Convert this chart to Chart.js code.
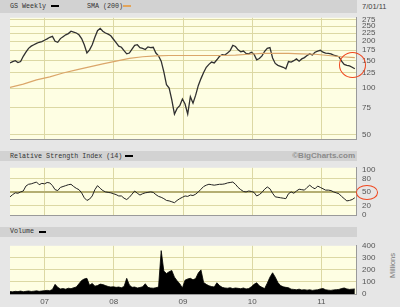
<!DOCTYPE html>
<html><head><meta charset="utf-8">
<script src="https://cdn.jsdelivr.net/npm/chart.js@4/dist/chart.umd.min.js"></script>
<style>
html,body{margin:0;padding:0;}
body{width:400px;height:307px;position:relative;overflow:hidden;background:#e6e6e6;font-family:"Liberation Mono",monospace;}
.band{position:absolute;left:0;width:357px;background:#d2d2d2;}
.txt{position:absolute;font-size:6.7px;color:#333;white-space:nowrap;line-height:7px;}
.dash{position:absolute;height:2px;}
canvas{position:absolute;}
.circ{position:absolute;border:1.5px solid #f0461e;border-radius:50%;box-sizing:border-box;}
</style></head><body>
<div class="band" style="top:0;height:13px;"></div>
<div class="band" style="top:151px;height:10px;"></div>
<div class="band" style="top:227px;height:10px;"></div>

<div class="txt" style="left:10px;top:2.5px;">GS Weekly</div>
<div class="dash" style="left:51px;top:5px;width:8px;background:#000;"></div>
<div class="txt" style="left:87px;top:2.5px;">SMA (200)</div>
<div class="dash" style="left:123px;top:5px;width:8px;background:#e2a45a;"></div>
<div class="txt" style="left:362px;top:2.5px;font-family:'Liberation Sans';font-size:7.5px;color:#444;">7/01/11</div>

<div class="txt" style="left:10px;top:152.5px;">Relative Strength Index (14)</div>
<div class="dash" style="left:125px;top:154.5px;width:8px;background:#000;"></div>
<div class="txt" style="right:45px;top:152px;font-family:'Liberation Sans';font-weight:bold;font-size:8px;color:#8a8a8a;line-height:8px;">©BigCharts.com</div>

<div class="txt" style="left:10px;top:228px;">Volume</div>
<div class="dash" style="left:39px;top:230.5px;width:7px;background:#000;"></div>
<div class="txt" style="left:376px;top:262px;width:32px;text-align:center;transform:rotate(-90deg);font-family:'Liberation Sans';font-size:7.5px;color:#777;">Millions</div>

<canvas id="price" width="390" height="143" style="left:10px;top:7px;"></canvas>
<canvas id="rsi" width="390" height="69" style="left:10px;top:157px;"></canvas>
<canvas id="vol" width="390" height="72" style="left:10px;top:235px;"></canvas>

<div class="circ" style="left:339px;top:52px;width:27px;height:26px;"></div>
<div class="circ" style="left:355.5px;top:185px;width:22px;height:14.5px;"></div>

<script>
// ---- data (weekly chart, sampled every 2 weeks from July 2006) ----
const sampleStart = 2006.5;
const sampleStepWeeks = 2;
const yearTicks = [2007, 2008, 2009, 2010, 2011];
const yearLabels = ['07', '08', '09', '10', '11'];
const priceTicks = [50, 75, 100, 125, 150, 175, 200, 225, 250, 275];
const rsiTicks = [0, 20, 50, 80, 100];
const volumeTicks = [0, 100, 200, 300, 400];

const closes = [145,148,150,146,148,160,170,180,186,190,194,197,199,203,207,212,215,200,197,208,
214,220,224,232,229,226,220,208,190,168,176,190,212,234,242,232,226,222,217,206,
196,186,183,174,166,168,178,188,190,182,180,177,184,182,183,168,161,149,127,105,
100,84,68,74,77,85,79,68,88,80,90,104,115,126,136,142,147,145,152,160,
164,163,168,174,188,185,176,171,173,167,166,170,165,152,155,161,172,180,182,156,
144,140,138,136,133,148,147,150,154,149,154,157,162,166,163,170,173,175,170,168,
167,166,163,161,159,149,142,140,139,136,133];

// 200-period SMA, one value every 5 samples
const smaEvery = 5;
const sma200 = [101,106,113,118,125,131,137,143,149,155,159,161,162,162,162,162,162,163,165,167,167,167,166,165,162,159,157];

const rsi14 = [39,44,48,47,50,52,63,67,68,70,72,66,69,68,71,70,64,55,53,60,
62,64,66,67,62,58,55,48,37,31,34,41,55,64,58,53,50,49,48,46,
44,41,41,36,33,38,45,52,47,43,46,48,49,50,49,44,40,38,35,31,
30,28,26,31,35,38,41,40,43,42,45,50,56,62,65,67,66,65,66,67,
67,68,70,71,72,67,60,55,51,50,52,51,49,41,44,49,56,61,57,47,
39,38,37,36,35,46,50,47,52,56,55,54,60,65,60,57,63,60,57,54,
54,53,50,48,46,40,35,30,31,33,37];

const volumeMillions = [20,18,22,20,24,19,22,25,21,23,26,22,25,28,30,27,38,80,55,42,
45,40,48,44,52,58,85,112,125,130,72,88,65,70,82,78,70,62,58,60,
55,58,52,62,130,75,55,58,50,54,60,85,55,50,48,52,58,360,190,170,
185,195,140,110,85,50,115,125,130,118,128,175,200,95,80,68,62,58,93,70,
55,50,48,52,45,50,47,44,50,42,45,60,80,93,68,55,45,90,140,176,
140,95,70,60,55,52,40,38,35,40,33,36,32,35,30,33,35,42,45,35,
32,30,34,36,38,45,50,42,38,40,42];

// ---- helpers ----
const stepYears = sampleStepWeeks * 7 / 365.25;
const toPoints = (arr, every) => arr.map((v, i) => ({x: sampleStart + i * every * stepYears, y: v}));

const GRID = '#dcd8a4';
const TICKFONT = {family: 'Liberation Sans', size: 8};
const TICKCOL = '#555';

const bgPlugin = {id: 'bg', beforeDraw(c) {
  const {ctx, chartArea: a} = c;
  ctx.save(); ctx.fillStyle = '#fefee3'; ctx.fillRect(a.left, a.top, a.width, a.height); ctx.restore();
}};

function xScale(showLabels, h) {
  return {
    type: 'linear', min: 2006.5, max: 2011.5,
    afterBuildTicks: s => { s.ticks = yearTicks.map(v => ({value: v})); },
    afterFit: s => { s.height = h; },
    ticks: {display: showLabels, padding: 3, color: TICKCOL, font: TICKFONT,
      callback: v => yearLabels[yearTicks.indexOf(v)], maxRotation: 0, autoSkip: false},
    grid: {color: GRID, drawTicks: false},
    border: {display: true, color: '#9a9a9a', width: 1}
  };
}
function yScale(extra) {
  return Object.assign({
    position: 'right',
    afterFit: s => { s.width = 44; },
    ticks: {padding: 6, color: TICKCOL, font: TICKFONT, autoSkip: false, callback: v => String(v)},
    border: {display: true, color: '#9a9a9a', width: 1}
  }, extra);
}
const common = {
  responsive: false, animation: false, devicePixelRatio: 1,
  plugins: {legend: {display: false}, tooltip: {enabled: false}},
  elements: {point: {radius: 0}, line: {tension: 0}}
};

new Chart(document.getElementById('price'), {
  type: 'line',
  data: {datasets: [
    {data: toPoints(sma200, smaEvery), borderColor: '#dba66a', borderWidth: 1.2},
    {data: toPoints(closes, 1), borderColor: '#303030', borderWidth: 1.3}
  ]},
  options: Object.assign({}, common, {
    layout: {padding: {top: 6, bottom: 6}},
    scales: {
      x: xScale(false, 0),
      y: yScale({type: 'logarithmic', min: 46.9, max: 283,
        afterBuildTicks: s => { s.ticks = priceTicks.map(v => ({value: v})); },
        grid: {color: GRID, drawTicks: false}})
    }
  }),
  plugins: [bgPlugin]
});

new Chart(document.getElementById('rsi'), {
  type: 'line',
  data: {datasets: [{data: toPoints(rsi14, 1), borderColor: '#222', borderWidth: 1}]},
  options: Object.assign({}, common, {
    layout: {padding: {top: 6, bottom: 6}},
    scales: {
      x: xScale(false, 0),
      y: yScale({type: 'linear', min: -1.85, max: 103.7,
        afterBuildTicks: s => { s.ticks = rsiTicks.map(v => ({value: v})); },
        grid: {drawTicks: false,
          color: c => (c.tick && (c.tick.value === 0 || c.tick.value === 100)) ? 'rgba(0,0,0,0)' : (c.tick && c.tick.value === 50 ? '#b4ae72' : GRID),
          lineWidth: c => (c.tick && c.tick.value === 50) ? 2 : 1}})
    }
  }),
  plugins: [bgPlugin]
});

new Chart(document.getElementById('vol'), {
  type: 'line',
  data: {datasets: [{data: toPoints(volumeMillions, 1), borderColor: '#000', backgroundColor: '#000', borderWidth: 0.8, fill: 'origin'}]},
  options: Object.assign({}, common, {
    layout: {padding: {top: 6, bottom: 0}},
    scales: {
      x: xScale(true, 13),
      y: yScale({type: 'linear', min: 0, max: 400,
        afterBuildTicks: s => { s.ticks = volumeTicks.map(v => ({value: v})); },
        grid: {drawTicks: false,
          color: c => (c.tick && (c.tick.value === 0 || c.tick.value === 400)) ? 'rgba(0,0,0,0)' : GRID}})
    }
  }),
  plugins: [bgPlugin]
});
</script>
</body></html>
